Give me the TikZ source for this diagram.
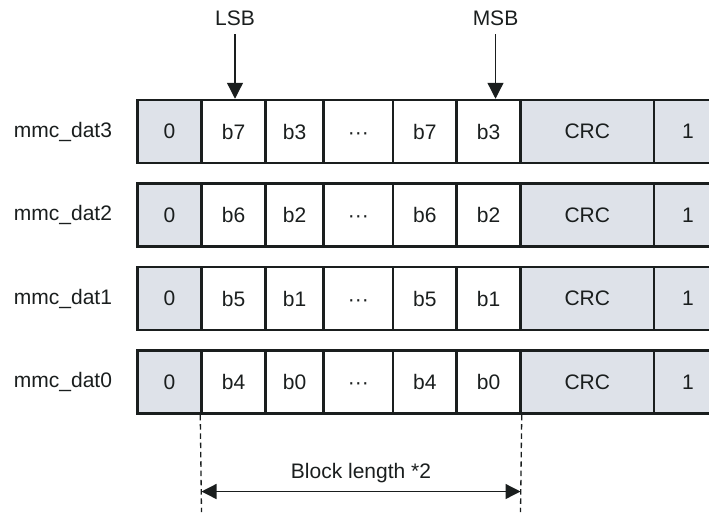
\documentclass[tikz,border=0pt]{standalone}
\usepackage{fontspec}
\setmainfont{Liberation Sans}
\usetikzlibrary{arrows.meta}
\definecolor{cellgray}{HTML}{DEE2E9}
\definecolor{ink}{HTML}{1A1E1E}
\tikzset{
  cell/.style={draw=ink, line width=2.5pt, inner sep=0pt, minimum height=63pt, text=ink, font=\fontsize{21}{24}\selectfont},
  graycell/.style={cell, fill=cellgray},
  lbl/.style={inner sep=0pt, text=ink, font=\fontsize{21}{24}\selectfont},
  ptr/.style={draw=ink, line width=1.3pt, -{Triangle[length=16pt,width=16pt]}},
  dim/.style={draw=ink, line width=1.3pt, {Triangle[length=15pt,width=15pt]}-{Triangle[length=15pt,width=15pt]}},
  guide/.style={draw=ink, line width=1.3pt, dash pattern=on 5.5pt off 3.8pt}
}
\begin{document}
\begin{tikzpicture}[x=1pt,y=-1pt]
\useasboundingbox (0,0) rectangle (709,512);
\begin{scope}
\clip (0,0) rectangle (709,512);
\foreach \r/\top/\name/\a/\b in {1/100/mmc\_dat3/b7/b3, 2/183.5/mmc\_dat2/b6/b2, 3/267/mmc\_dat1/b5/b1, 4/350.5/mmc\_dat0/b4/b0}{
  \pgfmathsetmacro{\cy}{\top+31.5}
  \node[lbl] (lab\r) at (63,\cy) {\name};
  \node[graycell, minimum width=64pt] (z\r) at (169.5,\cy) {0};
  \node[cell, minimum width=64pt] (p\r) at (233.5,\cy) {\a};
  \node[cell, minimum width=58pt] (q\r) at (294.5,\cy) {\b};
  \node[cell, minimum width=69.5pt] (d\r) at (358.25,\cy) {\vphantom{b0}···};
  \node[cell, minimum width=63.5pt] (s\r) at (424.75,\cy) {\a};
  \node[cell, minimum width=64pt] (t\r) at (488.5,\cy) {\b};
  \node[graycell, minimum width=133.5pt] (crc\r) at (587.25,\cy) {CRC};
  \node[graycell, minimum width=68pt] (one\r) at (688,\cy) {1};
}
\end{scope}
% pointers
\node[lbl] (lsb) at (235,18) {LSB};
\node[lbl] (msb) at (495.5,18) {MSB};
\coordinate (lsbtop) at (235,34);
\coordinate (msbtop) at (495.5,34);
\draw[ptr] (lsbtop) -- (lsbtop |- p1.north);
\draw[ptr] (msbtop) -- (msbtop |- t1.north);
% guides
\coordinate (gl) at (201.5,512);
\coordinate (gr) at (520.5,512);
\draw[guide] (p4.south west) -- (gl);
\draw[guide] (t4.south east) -- (gr);
\coordinate (al) at (201.5,491.5);
\coordinate (ar) at (520.5,491.5);
\draw[dim] (al) -- (ar);
\node[lbl] (blk) at (361,473) {Block length *2};
\end{tikzpicture}
\end{document}
